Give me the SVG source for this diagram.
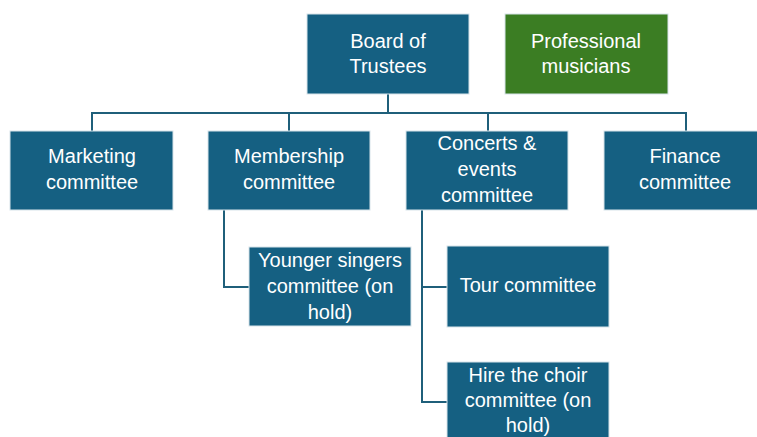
<svg xmlns="http://www.w3.org/2000/svg" width="757" height="437" viewBox="0 0 757 437">
<style>
.b{fill:#156082;stroke:#d8e4ea;stroke-width:1}
.g{fill:#3b7d23;stroke:#d8e4ea;stroke-width:1}
text{font-family:"Liberation Sans",Arial,sans-serif;font-size:20px;fill:#ffffff;text-anchor:middle}
.c{fill:none;stroke:#1f5f7a;stroke-width:2}
</style>
<rect width="757" height="437" fill="#ffffff"/>
<g id="connectors">
<path class="c" d="M388,94 V113 M92,131 V113 H686 V131 M289,113 V131 M488,113 V131"/>
<path class="c" d="M224,210 V287 H249"/>
<path class="c" d="M422,210 V402 H447 M422,287 H447"/>
</g>
<g id="board"><rect class="b" x="307" y="14" width="162" height="80"/><text x="388" y="48">Board of</text><text x="388" y="73">Trustees</text></g>
<g id="professional"><rect class="g" x="505" y="14" width="163" height="80"/><text x="586" y="48">Professional</text><text x="586" y="73">musicians</text></g>
<g id="marketing"><rect class="b" x="10" y="131" width="163" height="79"/><text x="92" y="163">Marketing</text><text x="92" y="189">committee</text></g>
<g id="membership"><rect class="b" x="208" y="131" width="162" height="79"/><text x="289" y="163">Membership</text><text x="289" y="189">committee</text></g>
<g id="concerts"><rect class="b" x="406" y="131" width="162" height="79"/><text x="487" y="150">Concerts &amp;</text><text x="487" y="176">events</text><text x="487" y="202">committee</text></g>
<g id="finance"><rect class="b" x="604" y="131" width="160" height="79"/><text x="685" y="163">Finance</text><text x="685" y="189">committee</text></g>
<g id="younger"><rect class="b" x="249" y="247" width="162" height="79"/><text x="330" y="267">Younger singers</text><text x="330" y="293">committee (on</text><text x="330" y="319">hold)</text></g>
<g id="tour"><rect class="b" x="447" y="246" width="162" height="81"/><text x="528" y="292">Tour committee</text></g>
<g id="hire"><rect class="b" x="447" y="362" width="162" height="80"/><text x="528" y="382">Hire the choir</text><text x="528" y="407">committee (on</text><text x="528" y="432">hold)</text></g>
</svg>
